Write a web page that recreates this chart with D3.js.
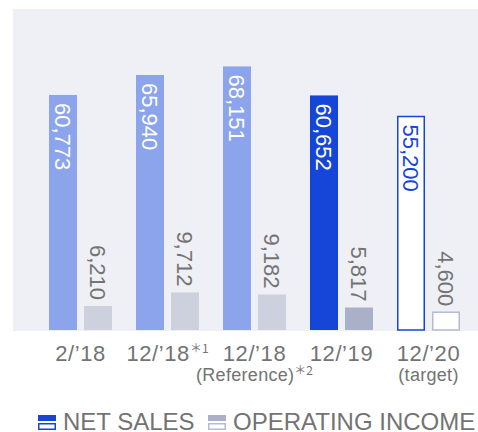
<!DOCTYPE html>
<html>
<head>
<meta charset="utf-8">
<script src="https://cdn.jsdelivr.net/npm/d3@7"></script>
<style>
  html, body { margin: 0; padding: 0; background: #fff; }
  svg { display: block; font-family: "Liberation Sans", Arial, sans-serif; }
</style>
</head>
<body>
<svg id="chart"></svg>
<script>
// data (units: million yen)
const categories = ["2/\u201918", "12/\u201918", "12/\u201918", "12/\u201919", "12/\u201920"];
const categoryNotes = ["", "\uFF0A1", "", "", ""];
const subLabels = ["", "", "(Reference)", "", "(target)"];
const subNotes = ["", "", "\uFF0A2", "", ""];
const netSales = [60773, 65940, 68151, 60652, 55200];
const operatingIncome = [6210, 9712, 9182, 5817, 4600];
// 0 = past, 1 = latest actual, 2 = target
const barKind = [0, 0, 0, 1, 2];

const width = 478;
const height = 432;

const colors = {
  panel: '#eff0f6',
  ns: ['#8ba4ec', '#1646d8', '#ffffff'],
  nsStroke: ['none', 'none', '#1646d8'],
  oi: ['#cdd1dd', '#aab0c7', '#ffffff'],
  oiStroke: ['none', 'none', '#b5bbd2'],
  text: '#737373'
};

const svg = d3.select('#chart').attr('width', width).attr('height', height);

const plot = { left: 13, top: 9, bottom: 331 };

svg.append('rect')
  .attr('x', plot.left)
  .attr('y', plot.top)
  .attr('width', width - plot.left)
  .attr('height', plot.bottom - plot.top)
  .attr('fill', colors.panel);

const idx = categories.map((_, i) => i);

const x = d3.scaleBand()
  .domain(idx)
  .range([37, 472])
  .paddingInner(0.276)
  .paddingOuter(0.138);

const xs = d3.scaleBand()
  .domain(['ns', 'oi'])
  .range([0, x.bandwidth()])
  .paddingInner(0.2);

const y = d3.scaleLinear()
  .domain([0, 83000])
  .range([plot.bottom - 1, plot.top]);

const fmt = d3.format(',');

const groups = svg.append('g')
  .selectAll('g')
  .data(idx)
  .join('g')
  .attr('transform', i => `translate(${x(i)},0)`);

// net sales bars
groups.append('rect')
  .attr('x', i => xs('ns') + (barKind[i] === 2 ? 0.75 : 0))
  .attr('y', i => y(netSales[i]))
  .attr('width', i => xs.bandwidth() - (barKind[i] === 2 ? 1.5 : 0))
  .attr('height', i => y(0) - y(netSales[i]))
  .attr('fill', i => colors.ns[barKind[i]])
  .attr('stroke', i => colors.nsStroke[barKind[i]])
  .attr('stroke-width', 1.5);

// operating income bars
groups.append('rect')
  .attr('x', i => xs('oi') + (barKind[i] === 2 ? 0.75 : 0))
  .attr('y', i => y(operatingIncome[i]))
  .attr('width', i => xs.bandwidth() - (barKind[i] === 2 ? 1.5 : 0))
  .attr('height', i => y(0) - y(operatingIncome[i]))
  .attr('fill', i => colors.oi[barKind[i]])
  .attr('stroke', i => colors.oiStroke[barKind[i]])
  .attr('stroke-width', 1.5);

// value labels, rotated to read top-down
groups.append('text')
  .attr('transform', i => {
    const cx = xs('ns') + xs.bandwidth() / 2;
    return `translate(${cx},${y(netSales[i]) + 8}) rotate(90)`;
  })
  .attr('dy', '0.36em')
  .attr('text-anchor', 'start')
  .attr('font-size', 22)
  .attr('fill', i => barKind[i] === 2 ? '#1646d8' : '#ffffff')
  .text(i => fmt(netSales[i]));

groups.append('text')
  .attr('transform', i => {
    const cx = xs('oi') + xs.bandwidth() / 2;
    return `translate(${cx},${y(operatingIncome[i]) - 6}) rotate(90)`;
  })
  .attr('dy', '0.36em')
  .attr('text-anchor', 'end')
  .attr('font-size', 22)
  .attr('fill', colors.text)
  .text(i => fmt(operatingIncome[i]));

// category labels
const cat = groups.append('text')
  .attr('x', x.bandwidth() / 2)
  .attr('y', 361)
  .attr('text-anchor', 'middle')
  .attr('font-size', 22)
  .attr('letter-spacing', 0.6)
  .attr('fill', colors.text);
cat.append('tspan').text(i => categories[i]);
cat.append('tspan')
  .attr('font-size', 12)
  .attr('font-family', '"Noto Sans CJK JP", "Liberation Sans", sans-serif')
  .attr('letter-spacing', 0)
  .attr('dy', -8)
  .text(i => categoryNotes[i]);

const sub = groups.append('text')
  .attr('x', x.bandwidth() / 2)
  .attr('y', 381)
  .attr('text-anchor', 'middle')
  .attr('font-size', 18)
  .attr('letter-spacing', 0.3)
  .attr('fill', colors.text);
sub.append('tspan').text(i => subLabels[i]);
sub.append('tspan')
  .attr('font-size', 12)
  .attr('font-family', '"Noto Sans CJK JP", "Liberation Sans", sans-serif')
  .attr('letter-spacing', 0)
  .attr('dy', -6)
  .text(i => subNotes[i]);

// legend
const legendItems = [
  { label: 'NET SALES', x: 38, fill: colors.ns[1], stroke: colors.nsStroke[2] },
  { label: 'OPERATING INCOME', x: 208, fill: colors.oi[1], stroke: colors.oiStroke[2] }
];

const legend = svg.append('g')
  .selectAll('g')
  .data(legendItems)
  .join('g')
  .attr('transform', d => `translate(${d.x},0)`);

legend.append('rect')
  .attr('x', 0)
  .attr('y', 415)
  .attr('width', 18)
  .attr('height', 6)
  .attr('fill', d => d.fill);

legend.append('rect')
  .attr('x', 0.75)
  .attr('y', 423.75)
  .attr('width', 16.5)
  .attr('height', 5.5)
  .attr('fill', '#fff')
  .attr('stroke', d => d.stroke)
  .attr('stroke-width', 1.5);

legend.append('text')
  .attr('x', 25)
  .attr('y', 430)
  .attr('font-size', 24)
  .attr('fill', colors.text)
  .text(d => d.label);
</script>
</body>
</html>
